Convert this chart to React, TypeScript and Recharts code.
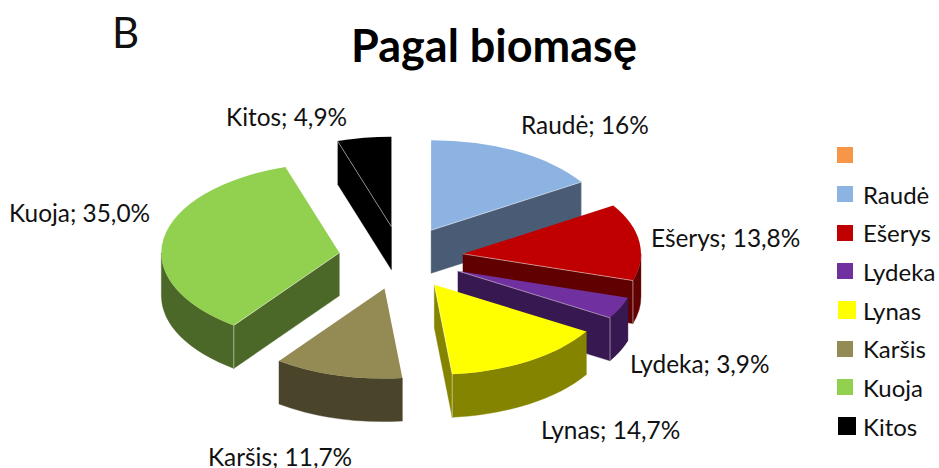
import { Legend, Pie, PieChart } from "recharts";

const names = [" ", "Raudė", "Ešerys", "Lydeka", "Lynas", "Karšis", "Kuoja", "Kitos"];
const shares = [0, 16, 13.8, 3.9, 14.7, 11.7, 35, 4.9];
const labels = ["", "Raudė; 16%", "Ešerys; 13,8%", "Lydeka; 3,9%", "Lynas; 14,7%", "Karšis; 11,7%", "Kuoja; 35,0%", "Kitos; 4,9%"];
const topColors = ["#F79646", "#8DB3E2", "#C00000", "#7030A0", "#FFFF00", "#948A54", "#92D050", "#000000"];
const wallColors = ["#7C4B23", "#4A5C75", "#600000", "#381850", "#848400", "#4A452A", "#4B6829", "#000000"];

const W = 939;
const H = 468;
const FONT = "Lato, 'Open Sans', sans-serif";
const TILT = 0.506; // vertical squash of the 3d view
const DEPTH = 43;
const EXPLODE = 62.5;
const RAD = Math.PI / 180;

// label anchor points, [x, baseline y]
const labelPos = [
  [0, 0],
  [521, 134],
  [651, 247],
  [630, 373],
  [541, 439],
  [208, 466],
  [9, 222],
  [226, 126],
];

const chartData = names.map((name, i) => ({
  name,
  value: shares[i],
  fill: topColors[i],
  wall: wallColors[i],
  text: labels[i],
}));

// Recharts angles run counter clockwise from 3 o'clock, here 0 is 12 o'clock, clockwise
const toClock = (a: number) => 90 - a;

function Slice3D(props: any) {
  const { cx, cy, outerRadius: r, startAngle, endAngle, fill, payload } = props;
  const a0 = toClock(startAngle);
  const a1 = toClock(endAngle);
  if (a1 - a0 < 0.01) return <g />;
  const mid = ((a0 + a1) / 2) * RAD;
  const ox = cx + EXPLODE * Math.sin(mid);
  const oy = cy - EXPLODE * TILT * Math.cos(mid);
  const pt = (a: number, rr = r, dz = 0) => [
    ox + rr * Math.sin(a * RAD),
    oy - rr * TILT * Math.cos(a * RAD) + dz,
  ];
  const arc = (from: number, to: number, dz: number) => {
    const [x, y] = pt(to, r, dz);
    return `A ${r} ${r * TILT} 0 ${Math.abs(to - from) > 180 ? 1 : 0} ${to > from ? 1 : 0} ${x} ${y}`;
  };
  const [sx, sy] = pt(a0);
  const wall = payload?.wall ?? props.wall;
  const faces: string[] = [];
  const highlights: string[] = [];
  const addCut = (a: number) => {
    const [x, y] = pt(a);
    faces.push(`M ${ox} ${oy} L ${x} ${y} L ${x} ${y + DEPTH} L ${ox} ${oy + DEPTH} Z`);
    highlights.push(`M ${ox} ${oy} L ${x} ${y} L ${x} ${y + DEPTH}`);
  };
  // cut face at the start of the slice
  if (Math.sin(a0 * RAD) < -0.001) addCut(a0);
  // cut face at the end of the slice
  if (Math.sin(a1 * RAD) > 0.001) addCut(a1);
  // rim, the part of the arc that faces the viewer
  const rimFrom = Math.max(a0, 90);
  const rimTo = Math.min(a1, 270);
  if (rimTo > rimFrom) {
    const [x0, y0] = pt(rimFrom);
    const [x1, y1] = pt(rimTo);
    faces.unshift(
      `M ${x0} ${y0} ${arc(rimFrom, rimTo, 0)} L ${x1} ${y1 + DEPTH} ${arc(rimTo, rimFrom, DEPTH)} L ${x0} ${y0 + DEPTH} Z`
    );
  }
  return (
    <g>
      {faces.map((d, i) => (
        <path key={i} d={d} fill={wall} stroke={wall} strokeWidth={0.4} />
      ))}
      <path d={`M ${ox} ${oy} L ${sx} ${sy} ${arc(a0, a1, 0)} Z`} fill={fill} />
      {highlights.map((d, i) => (
        <path key={i} d={d} fill="none" stroke="#ffffff" strokeOpacity={0.6} strokeWidth={0.8} />
      ))}
    </g>
  );
}

function SliceLabel(props: any) {
  const { index, payload } = props;
  const text = payload?.text ?? props.text;
  if (!text) return null;
  const [x, y] = labelPos[index];
  return (
    <text x={x} y={y} fontFamily={FONT} fontSize={24.4} fill="#111111" textAnchor="start">
      {text}
    </text>
  );
}

function LegendList({ payload }: any) {
  return (
    <div style={{ fontFamily: FONT, fontSize: 24, color: "#111111" }}>
      {(payload ?? []).map((entry: any, i: number) => {
        const big = i === 4 || i === 7; // yellow and black swatches are a bit larger in the original
        return (
          <div key={i} style={{ display: "flex", alignItems: "center", height: 38.7 }}>
            <span style={{ width: 26, flexShrink: 0, display: "block" }}>
              <span
                style={{
                  display: "block",
                  width: big ? 18 : 16,
                  height: big ? 18 : 16,
                  marginLeft: big ? 1 : 0,
                  background: entry.color,
                }}
              />
            </span>
            <span style={{ whiteSpace: "nowrap" }}>{entry.value}</span>
          </div>
        );
      })}
    </div>
  );
}

export default function App() {
  return (
    <div style={{ position: "absolute", left: 0, top: 0, width: W, height: H, background: "#fff", overflow: "hidden" }}>
      <PieChart width={W} height={H} margin={{ top: 0, right: 0, bottom: 0, left: 0 }}>
        <text x={112} y={48} fontFamily={FONT} fontSize={42} fill="#111111">
          B
        </text>
        <text x={494} y={62} fontFamily={FONT} fontSize={45} fontWeight={700} fill="#000000" textAnchor="middle">
          Pagal biomasę
        </text>
        <Legend
          content={LegendList}
          itemSorter={null}
          wrapperStyle={{ position: "absolute", left: 837, top: 136, bottom: "auto", width: 102, height: 310 }}
        />
        <Pie
          data={chartData}
          dataKey="value"
          nameKey="name"
          cx={401}
          cy={258}
          innerRadius={0}
          outerRadius={178}
          startAngle={90}
          endAngle={-270}
          paddingAngle={0}
          stroke="none"
          shape={Slice3D}
          label={SliceLabel}
          labelLine={false}
          isAnimationActive={false}
        />
      </PieChart>
    </div>
  );
}
